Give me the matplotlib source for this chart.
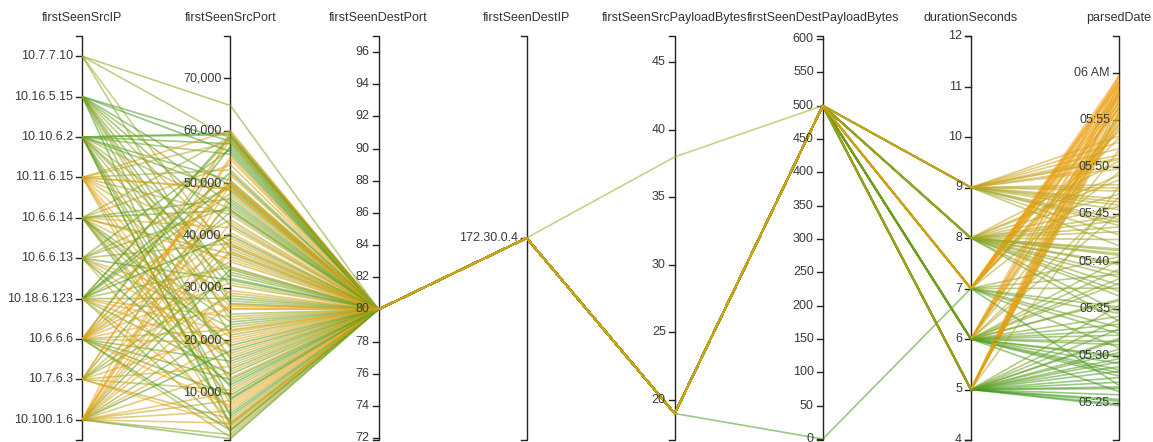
import numpy as np
import pandas as pd
import matplotlib
matplotlib.use("Agg")
import matplotlib.pyplot as plt
from matplotlib.collections import LineCollection
from matplotlib.colors import LinearSegmentedColormap

plt.rcParams['font.family'] = ['Liberation Sans', 'DejaVu Sans']

dimensions = ["firstSeenSrcIP", "firstSeenSrcPort", "firstSeenDestPort", "firstSeenDestIP",
              "firstSeenSrcPayloadBytes", "firstSeenDestPayloadBytes", "durationSeconds", "parsedDate"]

ip_order = ["10.7.7.10", "10.16.5.15", "10.10.6.2", "10.11.6.15", "10.6.6.14",
            "10.6.6.13", "10.18.6.123", "10.6.6.6", "10.7.6.3", "10.100.1.6"]
dest_ip_order = ["172.30.0.4"]

src_ip = (["10.7.7.10"] * 3 + ["10.16.5.15"] * 8 + ["10.10.6.2"] * 11 + ["10.11.6.15"] * 9 +
          ["10.6.6.14"] * 11 + ["10.6.6.13"] * 7 + ["10.18.6.123"] * 10 + ["10.6.6.6"] * 12 +
          ["10.7.6.3"] * 7 + ["10.100.1.6"] * 14 + ["10.16.5.15", "10.10.6.2"] +
          ["10.6.6.6", "10.6.6.6", "10.100.1.6", "10.11.6.15", "10.7.6.3", "10.10.6.2", "10.16.5.15",
           "10.18.6.123", "10.6.6.14", "10.6.6.13", "10.100.1.6", "10.11.6.15", "10.6.6.6", "10.7.6.3",
           "10.100.1.6", "10.6.6.14", "10.18.6.123", "10.10.6.2", "10.16.5.15", "10.6.6.13",
           "10.7.7.10", "10.6.6.6", "10.100.1.6", "10.11.6.15", "10.18.6.123", "10.6.6.14",
           "10.10.6.2", "10.7.6.3", "10.100.1.6", "10.6.6.6", "10.6.6.13", "10.18.6.123",
           "10.16.5.15", "10.11.6.15", "10.6.6.14", "10.100.1.6", "10.10.6.2", "10.7.6.3",
           "10.6.6.6", "10.18.6.123"])
src_port = [58500, 36000, 64800,
            58000, 49500, 42000, 21000, 14500, 5500, 37500, 27000,
            59500, 57500, 55500, 50500, 45000, 33000, 25000, 12000, 3500, 48500, 30500,
            49000, 60000, 39000, 18500, 8000, 26500, 44000, 2500, 52500,
            58800, 47000, 36500, 29000, 20500, 11000, 6000, 41500, 15500, 53500, 23500,
            56500, 38500, 31500, 17000, 4500, 45500, 22500,
            59000, 50000, 43000, 34000, 24500, 13500, 7000, 28000, 48000, 3000,
            57000, 49800, 40500, 35000, 19500, 16000, 9500, 1500, 26000, 44500, 31000, 12500,
            54500, 37000, 21500, 10500, 5000, 32500, 46500,
            59800, 51500, 47500, 39500, 29500, 18000, 10000, 6500, 2000, 23000, 33500, 14000, 42500, 8500,
            24000, 4000,
            58200, 50200, 49700, 48800, 55000, 59200, 56000, 52000, 35500, 26000,
            20000, 12800, 7500, 3800, 4200, 9000, 17500, 38000, 31800, 11500,
            27500, 22000, 36800, 33800, 40000, 44800, 16500, 28500, 1200, 2800,
            49200, 58600, 46000, 57800, 19000, 26800, 8800, 15000, 38200, 21800]
n_rows = len(src_port)
dest_port = [80] * n_rows
dest_ip = ["172.30.0.4"] * n_rows
src_payload = [19] * 92 + [38, 19] + [19] * 40
dest_payload = [500] * 93 + [0] + [500] * 40
duration = [8, 9, 7,
            5, 6, 5, 8, 6, 5, 9, 7,
            5, 6, 8, 5, 9, 7, 8, 6, 9, 5, 6,
            7, 5, 6, 7, 9, 5, 8, 7, 6,
            8, 5, 6, 7, 9, 8, 5, 7, 6, 9, 5,
            6, 8, 5, 7, 9, 6, 8,
            7, 5, 8, 6, 9, 5, 7, 6, 9, 8,
            5, 7, 6, 8, 5, 7, 6, 9, 5, 8, 7, 6,
            6, 7, 5, 8, 9, 6, 5,
            7, 6, 5, 8, 7, 6, 5, 9, 7, 8, 5, 6, 7, 5,
            9, 7,
            5, 7, 5, 6, 7, 8, 5, 6, 7, 5,
            6, 5, 7, 5, 6, 8, 9, 8, 6, 5,
            8, 9, 9, 8, 5, 6, 7, 8, 5, 6,
            9, 8, 7, 9, 5, 7, 6, 9, 5, 7]
parsed_time = ["05:41:10", "05:46:20", "05:38:40",
               "05:26:30", "05:29:10", "05:31:40", "05:36:50", "05:33:20", "05:27:40", "05:44:30", "05:30:50",
               "05:25:20", "05:28:10", "05:34:40", "05:30:20", "05:43:50", "05:37:10", "05:39:40", "05:35:50",
               "05:47:30", "05:28:50", "05:40:10",
               "05:57:20", "05:58:10", "05:55:40", "05:59:10", "05:51:20", "05:56:30", "05:48:40", "05:53:50",
               "05:45:10",
               "05:42:20", "05:33:50", "05:38:10", "05:49:30", "05:52:40", "05:44:20", "05:29:40", "05:56:10",
               "05:46:50", "05:48:10", "05:35:20",
               "05:31:30", "05:40:50", "05:27:10", "05:54:30", "05:50:10", "05:37:40", "05:43:10",
               "05:32:20", "05:25:50", "05:45:50", "05:39:10", "05:49:50", "05:30:40", "05:57:50", "05:34:10",
               "05:41:40", "05:36:20",
               "05:24:50", "05:58:40", "05:57:00", "05:47:10", "05:55:10", "05:33:00", "05:28:30", "05:42:50",
               "05:59:30", "05:38:50", "05:54:00", "05:31:10",
               "05:58:00", "05:53:10", "05:57:40", "05:44:50", "05:46:00", "05:36:00", "05:32:50",
               "05:56:50", "05:59:50", "05:54:50", "05:50:40", "05:58:20", "05:26:10", "05:55:50", "05:52:00",
               "05:40:30", "05:37:30", "05:29:20", "05:51:50", "05:59:00", "05:48:00",
               "05:45:30", "05:26:50",
               "05:56:40", "05:58:50", "05:57:10", "05:58:30", "05:59:20", "05:33:40", "05:25:10", "05:27:50",
               "05:57:30", "05:56:00",
               "05:55:20", "05:57:50", "05:59:40", "05:58:50", "05:54:20", "05:43:40", "05:50:50", "05:41:20",
               "05:30:00", "05:24:40",
               "05:39:50", "05:46:40", "05:53:20", "05:49:10", "05:26:40", "05:32:40", "05:35:10", "05:40:40",
               "05:31:50", "05:29:50",
               "05:44:10", "05:38:20", "05:34:30", "05:47:50", "05:28:20", "05:56:20", "05:32:10", "05:51:00",
               "05:55:30", "05:58:00"]

df = pd.DataFrame({
    "firstSeenSrcIP": src_ip,
    "firstSeenSrcPort": src_port,
    "firstSeenDestPort": dest_port,
    "firstSeenDestIP": dest_ip,
    "firstSeenSrcPayloadBytes": src_payload,
    "firstSeenDestPayloadBytes": dest_payload,
    "durationSeconds": duration,
    "parsedDate": pd.to_datetime("2013-04-11 " + pd.Series(parsed_time)),
})
minutes = (df["parsedDate"] - pd.Timestamp("2013-04-11 05:00:00")).dt.total_seconds() / 60.0

# vertical pixel range shared by every axis
Y_TOP, Y_BOT = 36.0, 440.0
X0, DX = 82.3, 148.1


def linear(domain):
    d0, d1 = domain
    return lambda v: Y_BOT - (np.asarray(v, float) - d0) / (d1 - d0) * (Y_BOT - Y_TOP)


def point(cats):
    step = (Y_BOT - Y_TOP) / len(cats)
    pos = {c: Y_TOP + step * (i + 0.5) for i, c in enumerate(cats)}
    return lambda v: np.array([pos[x] for x in np.atleast_1d(v)])


scales = {
    "firstSeenSrcIP": point(ip_order),
    "firstSeenSrcPort": linear((970, 78070)),
    "firstSeenDestPort": linear((71.88, 97.0)),
    "firstSeenDestIP": point(dest_ip_order),
    "firstSeenSrcPayloadBytes": linear((17.04, 46.95)),
    "firstSeenDestPayloadBytes": linear((-1.5, 604.5)),
    "durationSeconds": linear((4, 12)),
    "parsedDate": linear((21.03, 63.97)),
}

ticks = {
    "firstSeenSrcIP": (ip_order, ip_order),
    "firstSeenSrcPort": (list(range(10000, 70001, 10000)), [f"{v:,}" for v in range(10000, 70001, 10000)]),
    "firstSeenDestPort": (list(range(72, 97, 2)), [str(v) for v in range(72, 97, 2)]),
    "firstSeenDestIP": (dest_ip_order, dest_ip_order),
    "firstSeenSrcPayloadBytes": (list(range(20, 46, 5)), [str(v) for v in range(20, 46, 5)]),
    "firstSeenDestPayloadBytes": (list(range(0, 601, 50)), [str(v) for v in range(0, 601, 50)]),
    "durationSeconds": (list(range(4, 13)), [str(v) for v in range(4, 13)]),
    "parsedDate": ([25, 30, 35, 40, 45, 50, 55, 60],
                   ["05:25", "05:30", "05:35", "05:40", "05:45", "05:50", "05:55", "06 AM"]),
}

fig = plt.figure(figsize=(11.53, 4.42), dpi=100)
ax = fig.add_axes([0, 0, 1, 1])
ax.set_xlim(0, 1153)
ax.set_ylim(442, 0)
ax.axis("off")

xs = X0 + DX * np.arange(len(dimensions))
ys = []
for dim in dimensions:
    col = minutes if dim == "parsedDate" else df[dim]
    ys.append(scales[dim](col.values))
ys = np.column_stack(ys)

# colour each connection by its timestamp: early green -> late orange
cmap = LinearSegmentedColormap.from_list("time", ["#3c9a1c", "#9ba628", "#f3a112"])
t = (minutes - minutes.min()) / (minutes.max() - minutes.min())
colors = cmap(t.values)
segs = [np.column_stack([xs, row]) for row in ys]
ax.add_collection(LineCollection(segs, colors=colors, linewidths=1.2, alpha=0.55, zorder=3))

for x, dim in zip(xs, dimensions):
    ax.plot([x - 6, x, x, x - 6], [Y_TOP, Y_TOP, Y_BOT, Y_BOT], color="#222222", lw=1.0, zorder=2)
    vals, labels = ticks[dim]
    for v, lab in zip(vals, labels):
        y = float(np.atleast_1d(scales[dim](v))[0])
        ax.plot([x - 6, x], [y, y], color="#222222", lw=1.0, zorder=2)
        ax.text(x - 9, y, lab, ha="right", va="center", fontsize=9, color="#3a3a3a", zorder=4)
    ax.text(x, 18, dim, ha="center", va="center", fontsize=9, color="#333333")

fig.savefig("out.png", dpi=100)
